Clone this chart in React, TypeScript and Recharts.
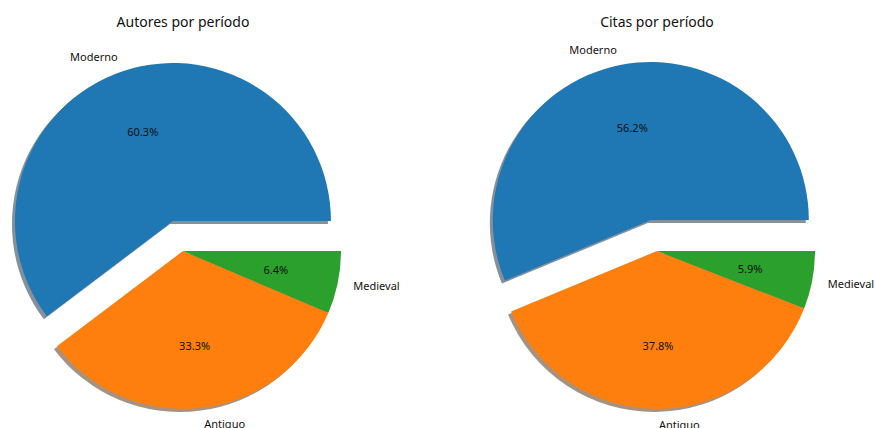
import { PieChart, Pie, Cell, Sector } from 'recharts';

const periods = ['Moderno', 'Antiguo', 'Medieval'];
const autoresPct = [60.3, 33.3, 6.4];
const citasPct = [56.2, 37.8, 5.9];
const explode = [0.2, 0, 0];
const colors = ['#1f77b4', '#ff7f0e', '#2ca02c'];
const shadowColors = ['#092436', '#4d2604', '#0d300d'];
const titles = ['Autores por período', 'Citas por período'];

const RAD = Math.PI / 180;
const FONT = '"Noto Sans", sans-serif';
const R = 158;
const CY = 251;
const CENTERS = [183, 657];

const buildData = (values: number[]) =>
  periods.map((name, i) => ({ name, value: values[i], explode: explode[i] }));

const offsetOf = (midAngle: number, outerRadius: number, ex: number) => ({
  dx: Math.cos(midAngle * RAD) * ex * outerRadius,
  dy: -Math.sin(midAngle * RAD) * ex * outerRadius,
});

const makeShape = (shadow: boolean) => (props: any) => {
  const ex = props.payload?.explode ?? props.explode ?? 0;
  const { dx, dy } = offsetOf(props.midAngle, props.outerRadius, ex);
  const sx = shadow ? -3 : 0;
  const sy = shadow ? 3 : 0;
  return <Sector {...props} cx={props.cx + dx + sx} cy={props.cy + dy + sy} stroke="none" />;
};

const mainShape = makeShape(false);
const shadowShape = makeShape(true);

const renderLabel = (props: any) => {
  const { cx, cy, midAngle, outerRadius, name, value } = props;
  const ex = props.payload?.explode ?? props.explode ?? 0;
  const { dx, dy } = offsetOf(midAngle, outerRadius, ex);
  const c = Math.cos(midAngle * RAD);
  const s = -Math.sin(midAngle * RAD);
  const lx = cx + dx + c * outerRadius * 1.1;
  const ly = cy + dy + s * outerRadius * 1.1;
  const px = cx + dx + c * outerRadius * 0.6;
  const py = cy + dy + s * outerRadius * 0.6;
  return (
    <g>
      <text x={lx} y={ly} textAnchor={c >= 0 ? 'start' : 'end'} dominantBaseline="central"
        fontSize={11} fontFamily={FONT} fill="#111">{name}</text>
      <text x={px} y={py} textAnchor="middle" dominantBaseline="central"
        fontSize={11} fontFamily={FONT} fill="#111">{`${Number(value).toFixed(1)}%`}</text>
    </g>
  );
};

const datasets = [buildData(autoresPct), buildData(citasPct)];

export default function App() {
  return (
    <div style={{ position: 'absolute', left: 0, top: 0, width: 876, height: 428, background: '#fff', overflow: 'hidden' }}>
      {titles.map((t, i) => (
        <div key={t} style={{
          position: 'absolute', top: 12, left: CENTERS[i] - 150, width: 300, textAlign: 'center',
          fontFamily: FONT, fontSize: 14, color: '#111', lineHeight: '20px',
        }}>{t}</div>
      ))}
      <PieChart width={876} height={428} margin={{ top: 0, right: 0, bottom: 0, left: 0 }}
        style={{ position: 'absolute', left: 0, top: 0 }}>
        {datasets.map((data, i) => (
          <Pie
            key={`shadow-${i}`}
            data={data}
            dataKey="value"
            nameKey="name"
            cx={CENTERS[i]}
            cy={CY}
            outerRadius={R}
            startAngle={0}
            endAngle={360}
            stroke="none"
            isAnimationActive={false}
            shape={shadowShape}
            activeShape={shadowShape}
            inactiveShape={shadowShape}
            label={false}
            labelLine={false}
          >
            {data.map((d, j) => (
              <Cell key={d.name} fill={shadowColors[j]} fillOpacity={0.5} />
            ))}
          </Pie>
        ))}
        {datasets.map((data, i) => (
          <Pie
            key={`main-${i}`}
            data={data}
            dataKey="value"
            nameKey="name"
            cx={CENTERS[i]}
            cy={CY}
            outerRadius={R}
            startAngle={0}
            endAngle={360}
            stroke="none"
            isAnimationActive={false}
            shape={mainShape}
            activeShape={mainShape}
            inactiveShape={mainShape}
            label={renderLabel}
            labelLine={false}
          >
            {data.map((d, j) => (
              <Cell key={d.name} fill={colors[j]} />
            ))}
          </Pie>
        ))}
      </PieChart>
    </div>
  );
}
